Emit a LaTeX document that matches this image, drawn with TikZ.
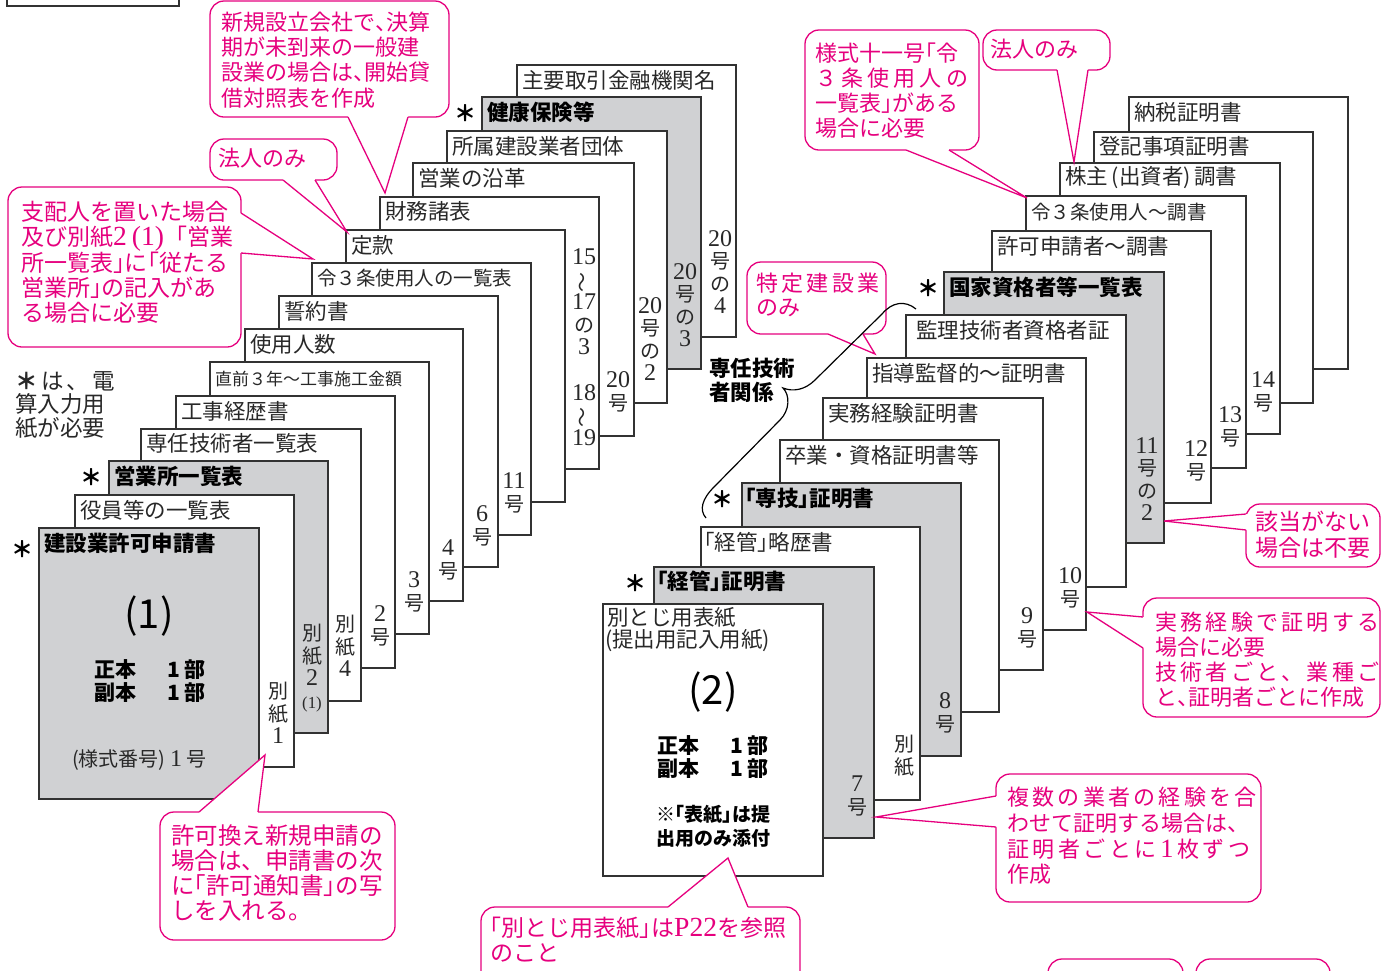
\documentclass[tikz,border=0pt]{standalone}
\usepackage{fontspec}
\usepackage{graphicx}
\setmainfont{Noto Sans CJK JP}
\newfontfamily\ser[Scale=1.2]{Liberation Serif}
\newfontfamily\jph[RawFeature=+halt]{Noto Sans CJK JP}
\newcommand{\lb}{{\jph 「}}
\newcommand{\rb}{{\jph 」}}
\newcommand{\hc}{{\jph 、}}
\newcommand{\vw}{\rotatebox[origin=c]{90}{～}}
\definecolor{pk}{RGB}{230,0,126}
\definecolor{pg}{RGB}{208,209,211}
\definecolor{ln}{RGB}{50,50,50}
\definecolor{tx}{RGB}{40,40,40}
\tikzset{
  page/.style={draw=ln, line width=1.5pt, fill=white},
  gpage/.style={draw=ln, line width=1.5pt, fill=pg},
  ttl/.style={anchor=west, inner sep=0pt, text=tx, font=\fontsize{21.5}{24}\selectfont},
  bttl/.style={anchor=west, inner sep=0pt, text=black, font=\fontsize{21.5}{24}\selectfont\bfseries},
  lab/.style={inner sep=0pt, align=center, text=tx, font=\fontsize{20}{22.5}\selectfont},
  star/.style={inner sep=0pt, text=black, font=\fontsize{22}{22}\selectfont\bfseries},
  bubble/.style={draw=pk, line width=1.3pt, fill=white, rounded corners=14pt},
  ptr/.style={draw=pk, line width=1.3pt, line join=miter},
  ptxt/.style={anchor=west, inner sep=0pt, align=left, text=pk},
  big/.style={inner sep=0pt, text=black, font=\fontsize{21}{23}\selectfont\bfseries, align=center},
  num/.style={inner sep=0pt, text=black, font=\fontsize{40}{40}\selectfont},
}
\begin{document}
\begin{tikzpicture}[x=1pt,y=-1pt]
\useasboundingbox (0,0) rectangle (1393,970);
\fill[white] (0,0) rectangle (1393,970);

% top-left frame
\draw[line width=1.5pt, draw=ln] (7,-10) rectangle (179,6);

% note
\node[ptxt, text=tx, font=\fontsize{22.5}{23.5}\selectfont] (note) at (15,405)
  {\makebox[93pt][s]{{\bfseries ＊} は 、 電}\\算入力用\\紙が必要};

% ===== left stack (back to front) =====
\filldraw[page] (517,65) rectangle (736,337);
\node[ttl] (a1) at (522,80) {主要取引金融機関名};
\node[lab] (a1l) at (720,272) {{\ser 20}\\号\\の\\{\ser 4}};

\filldraw[gpage] (482,97) rectangle (701,369);
\node[bttl] (a2) at (487,112) {健康保険等};
\node[star] (a2s) at (465,113) {＊};
\node[lab] (a2l) at (685,305) {{\ser 20}\\号\\の\\{\ser 3}};

\filldraw[page] (447,131) rectangle (667,403);
\node[ttl] (a3) at (452,146) {所属建設業者団体};
\node[lab] (a3l) at (650,339) {{\ser 20}\\号\\の\\{\ser 2}};

\filldraw[page] (413,163) rectangle (634,436);
\node[ttl] (a4) at (418,178) {営業の沿革};
\node[lab] (a4l) at (618,392) {{\ser 20}\\号};

\filldraw[page] (380,197) rectangle (599,469);
\node[ttl] (a5) at (385,211) {財務諸表};
\node[lab] (a5l) at (584,302) {{\ser 15}\\\vw\\{\ser 17}\\の\\{\ser 3}};
\node[lab] (a5m) at (584,415) {{\ser 18}\\\vw\\{\ser 19}};

\filldraw[page] (346,230) rectangle (565,502);
\node[ttl] (a6) at (351,245) {定款};

\filldraw[page] (312,263) rectangle (531,535);
\node[ttl, font=\fontsize{19.5}{22}\selectfont] (a7) at (317,278) {令３条使用人の一覧表};
\node[lab] (a7l) at (514,493) {{\ser 11}\\号};

\filldraw[page] (279,296) rectangle (498,567);
\node[ttl] (a8) at (284,311) {誓約書};
\node[lab] (a8l) at (482,526) {{\ser 6}\\号};

\filldraw[page] (245,329) rectangle (463,601);
\node[ttl] (a9) at (250,344) {使用人数};
\node[lab] (a9l) at (448,560) {{\ser 4}\\号};

\filldraw[page] (210,362) rectangle (429,634);
\node[ttl, font=\fontsize{17}{20}\selectfont] (a10) at (215,379) {直前３年～工事施工金額};
\node[lab] (a10l) at (414,592) {{\ser 3}\\号};

\filldraw[page] (176,396) rectangle (395,668);
\node[ttl] (a11) at (181,411) {工事経歴書};
\node[lab] (a11l) at (380,626) {{\ser 2}\\号};

\filldraw[page] (141,429) rectangle (361,701);
\node[ttl] (a12) at (146,443) {専任技術者一覧表};
\node[lab] (a12l) at (345,646) {別\\紙\\{\ser 4}};

\filldraw[gpage] (109,461) rectangle (328,733);
\node[bttl] (a13) at (114,476) {営業所一覧表};
\node[star] (a13s) at (91,477) {＊};
\node[lab] (a13l) at (312,668) {別\\紙\\{\ser 2}\\{\ser\fontsize{14}{15}\selectfont (1)}};

\filldraw[page] (75,495) rectangle (294,767);
\node[ttl] (a14) at (80,510) {役員等の一覧表};
\node[lab] (a14l) at (278,713) {別\\紙\\{\ser 1}};

\filldraw[gpage] (39,528) rectangle (259,799);
\node[bttl] (a15) at (44,543) {建設業許可申請書};
\node[star] (a15s) at (22,549) {＊};
\node[num] (a15n) at (149,616) {(1)};
\node[big] (a15a) at (150,670) {正本\hspace{31pt}1\hspace{4pt}部};
\node[big] (a15b) at (150,693) {副本\hspace{31pt}1\hspace{4pt}部};
\node[ttl, font=\fontsize{20}{22}\selectfont] (a15c) at (72,760) {(様式番号) {\ser 1} 号};

% ===== right stack (back to front) =====
\filldraw[page] (1129,97) rectangle (1348,369);
\node[ttl] (b1) at (1134,112) {納税証明書};

\filldraw[page] (1094,132) rectangle (1313,403);
\node[ttl] (b2) at (1099,146) {登記事項証明書};

\filldraw[page] (1060,163) rectangle (1280,434);
\node[ttl] (b3) at (1065,178) {株主\,(出資者)\,調書};
\node[lab] (b3l) at (1263,392) {{\ser 14}\\号};

\filldraw[page] (1026,196) rectangle (1246,468);
\node[ttl, font=\fontsize{19.5}{22}\selectfont] (b4) at (1031,212) {令３条使用人～調書};
\node[lab] (b4l) at (1230,427) {{\ser 13}\\号};

\filldraw[page] (992,231) rectangle (1211,503);
\node[ttl] (b5) at (997,246) {許可申請者～調書};
\node[lab] (b5l) at (1196,461) {{\ser 12}\\号};

\filldraw[gpage] (944,272) rectangle (1164,543);
\node[bttl] (b6) at (949,287) {国家資格者等一覧表};
\node[star] (b6s) at (928,288) {＊};
\node[lab] (b6l) at (1147,479) {{\ser 11}\\号\\の\\{\ser 2}};

\filldraw[page] (906,315) rectangle (1126,587);
\node[ttl] (b7) at (916,330) {監理技術者資格者証};

\filldraw[page] (867,358) rectangle (1086,630);
\node[ttl] (b8) at (872,373) {指導監督的～証明書};
\node[lab] (b8l) at (1070,588) {{\ser 10}\\号};

\filldraw[page] (823,398) rectangle (1043,670);
\node[ttl] (b9) at (828,413) {実務経験証明書};
\node[lab] (b9l) at (1027,628) {{\ser 9}\\号};

\filldraw[page] (780,440) rectangle (999,712);
\node[ttl] (b10) at (785,455) {卒業・資格証明書等};

\filldraw[gpage] (742,483) rectangle (961,756);
\node[bttl] (b11) at (745,498) {\lb 専技\rb 証明書};
\node[star] (b11s) at (722,499) {＊};
\node[lab] (b11l) at (945,713) {{\ser 8}\\号};

\filldraw[page] (701,527) rectangle (920,800);
\node[ttl] (b12) at (704,542) {\lb 経管\rb 略歴書};
\node[lab] (b12l) at (904,756) {別\\紙};

\filldraw[gpage] (654,567) rectangle (874,838);
\node[bttl] (b13) at (657,581) {\lb 経管\rb 証明書};
\node[star] (b13s) at (635,583) {＊};
\node[lab] (b13l) at (857,796) {{\ser 7}\\号};

\filldraw[page] (603,604) rectangle (823,876);
\node[ttl] (b14) at (607,618) {別とじ用表紙};
\node[ttl] (b14b) at (605,641) {(提出用記入用紙)};
\node[num] (b14n) at (713,692) {(2)};
\node[big] (b14c) at (713,746) {正本\hspace{31pt}1\hspace{4pt}部};
\node[big] (b14d) at (713,769) {副本\hspace{31pt}1\hspace{4pt}部};
\node[big, font=\fontsize{19}{22}\selectfont\bfseries] (b14e) at (713,815) {※\lb 表紙\rb は提};
\node[big, font=\fontsize{19}{22}\selectfont\bfseries] (b14f) at (713,838) {出用のみ添付};

% ===== callouts =====
% 1
\draw[bubble] (210,1) rectangle (449,117);
\fill[white] (348,112) -- (348,117) -- (385,193) -- (408,117) -- (408,112) -- cycle;
\draw[ptr] (348,117) -- (385,193) -- (408,117);
\node[ptxt, font=\fontsize{22}{25.3}\selectfont] (c1) at (221,60)
  {新規設立会社で\hc 決算\\期が未到来の一般建\\設業の場合は\hc 開始貸\\借対照表を作成};
% 2
\draw[bubble] (210,139) rectangle (337,180);
\fill[white] (283,175) -- (283,180) -- (347,232) -- (315,180) -- (315,175) -- cycle;
\draw[ptr] (283,180) -- (347,232) -- (315,180);
\node[ptxt, font=\fontsize{22}{25}\selectfont] (c2) at (218,158) {法人のみ};
% 3
\draw[bubble] (8,187) rectangle (241,347);
\fill[white] (236,213) -- (241,213) -- (313,259) -- (241,253) -- (236,253) -- cycle;
\draw[ptr] (241,213) -- (313,259) -- (241,253);
\node[ptxt, font=\fontsize{23}{25}\selectfont] (c3) at (21,262)
  {支配人を置いた場合\\及び別紙{\ser 2}\hspace{5pt}{\ser (1)}「営業\\所一覧表\rb に\lb 従たる\\営業所\rb の記入があ\\る場合に必要};
% 4
\draw[bubble] (805,30) rectangle (979,150);
\fill[white] (906,145) -- (906,150) -- (1027,198) -- (949,150) -- (949,145) -- cycle;
\draw[ptr] (906,150) -- (1027,198) -- (949,150);
\node[ptxt, font=\fontsize{22}{25}\selectfont] (c4) at (815,90.5)
  {様式十一号\lb 令\\\makebox[153pt][s]{３ 条 使 用 人 の}\\一覧表\rb がある\\場合に必要};
% 5
\draw[bubble] (983,30) rectangle (1110,70);
\fill[white] (1057,65) -- (1057,70) -- (1074,162) -- (1088,70) -- (1088,65) -- cycle;
\draw[ptr] (1057,70) -- (1074,162) -- (1088,70);
\node[ptxt, font=\fontsize{22}{25}\selectfont] (c5) at (990,49) {法人のみ};
% 6
\draw[bubble] (747,262) rectangle (886,334);
\fill[white] (828,329) -- (828,334) -- (875,354) -- (863,334) -- (863,329) -- cycle;
\draw[ptr] (828,334) -- (875,354) -- (863,334);
\node[ptxt, font=\fontsize{22}{24}\selectfont] (c6) at (756,295)
  {\makebox[122pt][s]{特 定 建 設 業}\\のみ};
% 7
\draw[bubble] (1246,504) rectangle (1380,567);
\fill[white] (1251,514) -- (1246,514) -- (1164,521) -- (1246,530) -- (1251,530) -- cycle;
\draw[ptr] (1246,514) -- (1164,521) -- (1246,530);
\node[ptxt, font=\fontsize{23}{26}\selectfont] (c7) at (1255,535) {該当がない\\場合は不要};
% 8
\draw[bubble] (1143,598) rectangle (1380,717);
\fill[white] (1148,617) -- (1143,617) -- (1087,612) -- (1143,648) -- (1148,648) -- cycle;
\draw[ptr] (1143,617) -- (1087,612) -- (1143,648);
\node[ptxt, font=\fontsize{22}{25}\selectfont] (c8) at (1155,660)
  {\makebox[206pt][s]{実 務 経 験 で 証 明 す る}\\場合に必要\\\makebox[206pt][s]{技 術 者 ご と 、 業 種 ご}\\と\hc 証明者ごとに作成};
% 9
\draw[bubble] (996,774) rectangle (1261,902);
\fill[white] (1001,796) -- (996,796) -- (876,817) -- (996,827) -- (1001,827) -- cycle;
\draw[ptr] (996,796) -- (876,817) -- (996,827);
\node[ptxt, font=\fontsize{22}{25.7}\selectfont] (c9) at (1007,836)
  {\makebox[243pt][s]{複 数 の 業 者 の 経 験 を 合}\\わせて証明する場合は\hc\\\makebox[243pt][s]{証 明 者 ご と に {\ser 1} 枚 ず つ}\\作成};
% 10
\draw[bubble] (160,812) rectangle (395,940);
\fill[white] (199,817) -- (199,812) -- (265,755) -- (258,812) -- (258,817) -- cycle;
\draw[ptr] (199,812) -- (265,755) -- (258,812);
\node[ptxt, font=\fontsize{23.5}{25}\selectfont] (c10) at (171,873)
  {許可換え新規申請の\\場合は、申請書の次\\に\lb 許可通知書\rb の写\\しを入れる。};
% 11
\draw[bubble] (481,907) rectangle (800,995);
\fill[white] (668,912) -- (668,907) -- (728,858) -- (748,907) -- (748,912) -- cycle;
\draw[ptr] (668,907) -- (728,858) -- (748,907);
\node[ptxt, font=\fontsize{23}{25}\selectfont] (c11) at (490,940)
  {\lb 別とじ用表紙\rb は{\ser P22}を参照\\のこと};
% bottom partial boxes
\draw[bubble] (1048,959) rectangle (1183,1000);
\draw[bubble] (1196,959) rectangle (1330,1000);

% ===== brace 専任技術者関係 =====
\draw[line width=1.2pt, black] (916,309) .. controls (905,300) and (892,302) .. (882,314)
  -- (815,380) .. controls (805,390) and (793,392) .. (783,388)
  .. controls (790,395) and (790,410) .. (780,420)
  -- (714,487) .. controls (702,499) and (699,510) .. (706,518);
\node[big, anchor=west, align=left, font=\fontsize{21.5}{24}\selectfont\bfseries] (sg) at (709,380) {専任技術\\者関係};
\end{tikzpicture}
\end{document}
